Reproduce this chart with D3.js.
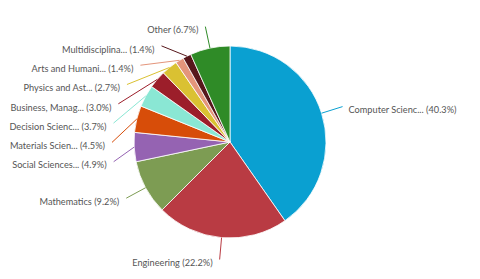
<!DOCTYPE html>
<html>
<head>
<meta charset="utf-8">
<script src="https://cdnjs.cloudflare.com/ajax/libs/d3/7.8.5/d3.min.js"></script>
<style>
  body { margin: 0; background: #fff; }
  svg { display: block; }
  .label { font-family: Lato, "Open Sans", sans-serif; font-size: 9.2px; fill: #555; }
</style>
</head>
<body>
<script>
// subject areas, share of documents (%)
var categories = ["Computer Scienc...", "Engineering", "Mathematics", "Social Sciences...",
  "Materials Scien...", "Decision Scienc...", "Business, Manag...", "Physics and Ast...",
  "Arts and Humani...", "Multidisciplina...", "Other"];
var shares = [40.3, 22.2, 9.2, 4.9, 4.5, 3.7, 3.0, 2.7, 1.4, 1.4, 6.7];
var colors = ["#0aa0d1", "#b93b43", "#7d9c53", "#9563b2", "#d74d09", "#8ae7d4",
  "#9c1e2a", "#dac132", "#e4957b", "#57171b", "#2f8b27"];

var width = 480, height = 279;
var cx = 230, cy = 142, radius = 96, labelR = 118, gap = 19.3;

var svg = d3.select("body").append("svg")
    .attr("width", width)
    .attr("height", height);

var g = svg.append("g")
    .attr("transform", "translate(" + cx + "," + cy + ")");

var data = categories.map(function(c, i) { return {name: c, value: shares[i], color: colors[i]}; });

var pie = d3.pie().sort(null).value(function(d) { return d.value; });
var arc = d3.arc().innerRadius(0).outerRadius(radius);
var arcs = pie(data);

g.selectAll("path.slice")
    .data(arcs)
  .enter().append("path")
    .attr("class", "slice")
    .attr("d", arc)
    .attr("fill", function(d) { return d.data.color; })
    .attr("stroke", "#fff")
    .attr("stroke-width", 0.8);

// label layout: natural point on outer circle, then push apart on each side
arcs.forEach(function(d) {
  var a = (d.startAngle + d.endAngle) / 2;
  d.mid = a;
  d.left = Math.sin(a) < 0;
  d.ly = -labelR * Math.cos(a);
});

[true, false].forEach(function(side) {
  var list = arcs.filter(function(d) { return d.left === side; })
    .sort(function(a, b) { return a.ly - b.ly; });
  var prev = -Infinity;
  list.forEach(function(d) {
    d.ly = Math.max(d.ly, prev + gap);
    prev = d.ly;
    var dx = Math.sqrt(Math.max(0, labelR * labelR - d.ly * d.ly));
    d.lx = side ? -dx : dx;
  });
});

g.selectAll("line.connector")
    .data(arcs)
  .enter().append("line")
    .attr("class", "connector")
    .attr("x1", function(d) { return radius * Math.sin(d.mid); })
    .attr("y1", function(d) { return -radius * Math.cos(d.mid); })
    .attr("x2", function(d) { return d.lx; })
    .attr("y2", function(d) { return d.ly; })
    .attr("stroke", function(d) { return d.data.color; })
    .attr("stroke-width", 1);

g.selectAll("text.label")
    .data(arcs)
  .enter().append("text")
    .attr("class", "label")
    .attr("x", function(d) { return d.left ? d.lx - 7 : d.lx + 6; })
    .attr("y", function(d) { return d.ly + 3.5; })
    .attr("dy", "0.35em")
    .attr("text-anchor", function(d) { return d.left ? "end" : "start"; })
    .text(function(d) { return d.data.name + " (" + d.data.value.toFixed(1) + "%)"; });
</script>
</body>
</html>
